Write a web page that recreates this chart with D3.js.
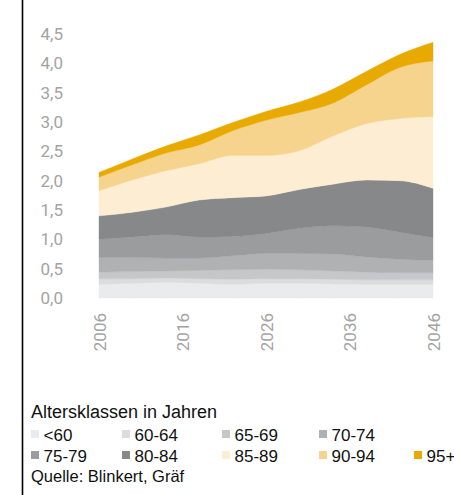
<!DOCTYPE html>
<html>
<head>
<meta charset="utf-8">
<script src="https://cdn.jsdelivr.net/npm/d3@7"></script>
<style>
  html, body { margin: 0; padding: 0; background: #fff; }
  svg { display: block; }
</style>
</head>
<body>
<svg id="chart" width="454" height="495"></svg>
<script>
// ── Data ────────────────────────────────────────────────────────────────────
const years = [2006, 2010, 2014, 2018, 2022, 2026, 2030, 2034, 2038, 2042, 2046];

const ageLt60 = [0.23, 0.25, 0.27, 0.25, 0.23, 0.25, 0.25, 0.24, 0.23, 0.23, 0.23];
const age6064 = [0.10, 0.08, 0.07, 0.08, 0.09, 0.08, 0.08, 0.08, 0.08, 0.08, 0.08];
const age6569 = [0.11, 0.12, 0.12, 0.14, 0.16, 0.16, 0.15, 0.14, 0.13, 0.12, 0.12];
const age7074 = [0.25, 0.24, 0.22, 0.21, 0.24, 0.27, 0.28, 0.29, 0.26, 0.23, 0.21];
const age7579 = [0.31, 0.35, 0.40, 0.36, 0.33, 0.34, 0.43, 0.48, 0.51, 0.46, 0.39];
const age8084 = [0.40, 0.42, 0.47, 0.63, 0.66, 0.64, 0.66, 0.71, 0.80, 0.88, 0.84];
const age8589 = [0.43, 0.55, 0.62, 0.62, 0.72, 0.69, 0.66, 0.82, 0.96, 1.06, 1.22];
const age9094 = [0.23, 0.26, 0.30, 0.32, 0.42, 0.60, 0.65, 0.56, 0.66, 0.87, 0.95];
const age95   = [0.08, 0.10, 0.12, 0.17, 0.14, 0.15, 0.18, 0.24, 0.23, 0.22, 0.32];

const classLabels = ["<60", "60-64", "65-69", "70-74", "75-79", "80-84", "85-89", "90-94", "95+"];
const classSeries = [ageLt60, age6064, age6569, age7074, age7579, age8084, age8589, age9094, age95];
const classColors = ["#eaebec", "#dbdcdd", "#c6c7c9", "#b0b1b3", "#9b9c9e", "#87888a",
                     "#fcedd3", "#f6d48e", "#e8a900"];

const yTicks = [0, 0.5, 1, 1.5, 2, 2.5, 3, 3.5, 4, 4.5];
const xTicks = [2006, 2016, 2026, 2036, 2046];

const legendTitle = "Altersklassen in Jahren";
const sourceText  = "Quelle: Blinkert, Gräf";

// ── Layout ──────────────────────────────────────────────────────────────────
const X_LEFT = 99, X_RIGHT = 433;
const Y_BOTTOM = 298, Y_TOP = 34;
const LEGEND_COLS = [31, 122, 222, 319, 414];
const LEGEND_ROWS = [430, 451];
const TICK_FONT = "Roboto, 'Liberation Sans', sans-serif";
const TEXT_FONT = "'Liberation Sans', Arial, sans-serif";

const svg = d3.select("#chart");

// frame line on the left
svg.append("line")
  .attr("x1", 22.5).attr("x2", 22.5)
  .attr("y1", 0).attr("y2", 495)
  .attr("stroke", "#000").attr("stroke-width", 1.6);

const x = d3.scaleLinear().domain([2006, 2046]).range([X_LEFT, X_RIGHT]);
const y = d3.scaleLinear().domain([0, 4.5]).range([Y_BOTTOM, Y_TOP]);

// ── Stack ───────────────────────────────────────────────────────────────────
const rows = years.map((yr, i) => {
  const r = { year: yr };
  classLabels.forEach((k, j) => { r[k] = classSeries[j][i]; });
  return r;
});

const stack = d3.stack().keys(classLabels);
const layers = stack(rows);

const area = d3.area()
  .curve(d3.curveMonotoneX)
  .x(d => x(d.data.year))
  .y0(d => y(d[0]))
  .y1(d => y(d[1]));

svg.append("g")
  .selectAll("path")
  .data(layers)
  .join("path")
  .attr("d", area)
  .attr("fill", (d, i) => classColors[i])
  .attr("stroke", (d, i) => classColors[i])
  .attr("stroke-width", 0.4);

// ── Axes ────────────────────────────────────────────────────────────────────
const fmtComma = v => d3.format(".1f")(v).replace(".", ",");

const yAxisG = svg.append("g")
  .attr("transform", "translate(66,0)")
  .call(d3.axisLeft(y).tickValues(yTicks).tickSize(0).tickPadding(3).tickFormat(fmtComma));
yAxisG.select(".domain").remove();
yAxisG.selectAll(".tick text")
  .attr("fill", "#a3a3a3")
  .attr("font-family", TICK_FONT)
  .attr("font-size", "17px");

const xAxisG = svg.append("g")
  .attr("transform", `translate(0,${Y_BOTTOM})`)
  .call(d3.axisBottom(x).tickValues(xTicks).tickSize(0).tickFormat(d3.format("d")));
xAxisG.select(".domain").remove();
xAxisG.selectAll(".tick text")
  .attr("transform", "rotate(-90)")
  .attr("text-anchor", "end")
  .attr("x", -15)
  .attr("y", 0)
  .attr("dy", "0.36em")
  .attr("fill", "#a3a3a3")
  .attr("font-family", TICK_FONT)
  .attr("font-size", "17px");

// ── Legend ──────────────────────────────────────────────────────────────────
svg.append("text")
  .attr("x", 31).attr("y", 418)
  .attr("font-family", TEXT_FONT)
  .attr("font-size", "18px")
  .attr("fill", "#111")
  .text(legendTitle);

const items = svg.append("g")
  .selectAll("g")
  .data(classLabels)
  .join("g")
  .attr("transform", (d, i) => {
    const row = i < 4 ? 0 : 1;
    const col = i < 4 ? i : i - 4;
    return `translate(${LEGEND_COLS[col]},${LEGEND_ROWS[row]})`;
  });

items.append("rect")
  .attr("width", 8).attr("height", 8)
  .attr("fill", (d, i) => classColors[i]);

items.append("text")
  .attr("x", 12.5).attr("y", 10.5)
  .attr("font-family", TEXT_FONT)
  .attr("font-size", "17px")
  .attr("fill", "#111")
  .text(d => d);

svg.append("text")
  .attr("x", 31).attr("y", 482)
  .attr("font-family", TEXT_FONT)
  .attr("font-size", "16.5px")
  .attr("fill", "#111")
  .text(sourceText);
</script>
</body>
</html>
